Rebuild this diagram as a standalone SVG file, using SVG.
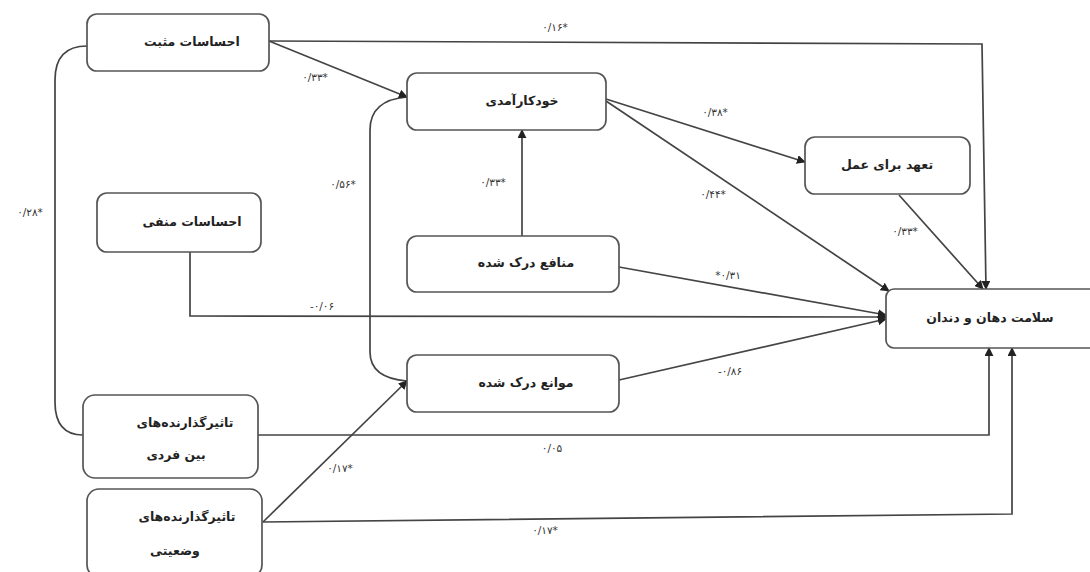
<svg xmlns="http://www.w3.org/2000/svg" width="1090" height="572" viewBox="0 0 1090 572">
<style>
.box{fill:#fff;stroke:#555;stroke-width:1.7}
.ln{fill:none;stroke:#444;stroke-width:1.7}
.t{font-family:"DejaVu Sans",sans-serif;font-size:12.5px;font-weight:bold;fill:#222;text-anchor:middle;direction:rtl}
.lb{font-family:"DejaVu Sans",sans-serif;font-size:10.5px;fill:#333;text-anchor:middle}
</style>
<defs>
<marker id="ah" viewBox="0 0 10 10" refX="9" refY="5" markerWidth="9" markerHeight="9" markerUnits="userSpaceOnUse" orient="auto">
<path d="M0,0 L10,5 L0,10 z" fill="#222"/>
</marker>
</defs>
<rect width="1090" height="572" fill="#fff"/>
<g id="connectors">
<path class="ln" d="M87,46 Q55,46 55,80 L55,402 Q55,435 83,435"/>
<path class="ln" d="M407,97 Q370,100 370,130 L370,352 Q370,378 407,381"/>
<path class="ln" d="M269,41 L407,97" marker-end="url(#ah)"/>
<path class="ln" d="M269,41 L982,44 L986,289" marker-end="url(#ah)"/>
<path class="ln" d="M522,236 L522,130" marker-end="url(#ah)"/>
<path class="ln" d="M606,99 L805,162" marker-end="url(#ah)"/>
<path class="ln" d="M606,101 L889,291" marker-end="url(#ah)"/>
<path class="ln" d="M899,195 L983,289" marker-end="url(#ah)"/>
<path class="ln" d="M619,267 L886,315" marker-end="url(#ah)"/>
<path class="ln" d="M190,252 L190,316 L886,317" marker-end="url(#ah)"/>
<path class="ln" d="M619,380 L886,319" marker-end="url(#ah)"/>
<path class="ln" d="M258,435 L989,435 L989,348" marker-end="url(#ah)"/>
<path class="ln" d="M263,522 L407,381" marker-end="url(#ah)"/>
<path class="ln" d="M263,522 L1012,514 L1012,348" marker-end="url(#ah)"/>
</g>
<g id="labels">
<text class="lb" x="555" y="31">۰/۱۶*</text>
<text class="lb" x="315" y="81">۰/۳۳*</text>
<text class="lb" x="715" y="116">۰/۳۸*</text>
<text class="lb" x="30" y="216">۰/۲۸*</text>
<text class="lb" x="343" y="188">۰/۵۶*</text>
<text class="lb" x="493" y="186">۰/۳۳*</text>
<text class="lb" x="713" y="198">۰/۴۴*</text>
<text class="lb" x="905" y="235">۰/۳۳*</text>
<text class="lb" x="728" y="279">*۰/۳۱</text>
<text class="lb" x="322" y="310">-۰/۰۶</text>
<text class="lb" x="730" y="375">-۰/۸۶</text>
<text class="lb" x="552" y="452">۰/۰۵</text>
<text class="lb" x="340" y="472">۰/۱۷*</text>
<text class="lb" x="545" y="534">۰/۱۷*</text>
</g>
<g id="n-positive">
<rect class="box" x="87" y="14" width="182" height="57" rx="10"/>
<text class="t" x="192" y="46">احساسات مثبت</text>
</g>
<g id="n-selfefficacy">
<rect class="box" x="407" y="73" width="199" height="57" rx="10"/>
<text class="t" x="522" y="105">خودکارآمدی</text>
</g>
<g id="n-commitment">
<rect class="box" x="805" y="137" width="165" height="57" rx="10"/>
<text class="t" x="887" y="169">تعهد برای عمل</text>
</g>
<g id="n-negative">
<rect class="box" x="97" y="193" width="164" height="59" rx="10"/>
<text class="t" x="192" y="226">احساسات منفی</text>
</g>
<g id="n-benefits">
<rect class="box" x="407" y="236" width="212" height="56" rx="10"/>
<text class="t" x="526" y="267">منافع درک شده</text>
</g>
<g id="n-health">
<rect class="box" x="886" y="289" width="220" height="59" rx="8"/>
<text class="t" x="990" y="322">سلامت دهان و دندان</text>
</g>
<g id="n-barriers">
<rect class="box" x="407" y="355" width="212" height="57" rx="10"/>
<text class="t" x="526" y="387">موانع درک شده</text>
</g>
<g id="n-interpersonal">
<rect class="box" x="83" y="395" width="175" height="83" rx="12"/>
<text class="t" x="185" y="427">تاثیرگذارنده‌های</text>
<text class="t" x="176" y="459">بین فردی</text>
</g>
<g id="n-situational">
<rect class="box" x="87" y="489" width="175" height="88" rx="12"/>
<text class="t" x="187" y="521">تاثیرگذارنده‌های</text>
<text class="t" x="175" y="555">وضعیتی</text>
</g>
</svg>
